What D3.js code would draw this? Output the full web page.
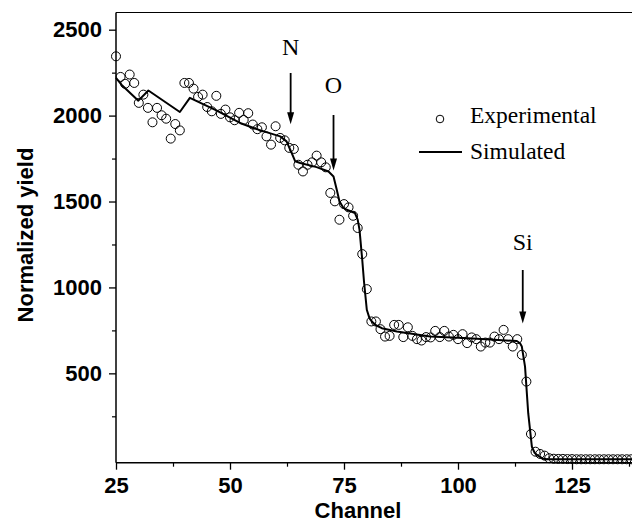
<!DOCTYPE html>
<html><head><meta charset="utf-8">
<script src="https://cdn.jsdelivr.net/npm/d3@7/dist/d3.min.js"></script>
<style>html,body{margin:0;padding:0;background:#fff;}svg{display:block;}</style>
</head><body><svg id="c" width="632" height="524"></svg>
<script>
const expChannel = [25,26,27,28,29,30,31,32,33,34,35,36,37,38,39,40,41,42,43,44,45,46,47,48,49,50,51,52,53,54,55,56,57,58,59,60,61,62,63,64,65,66,67,68,69,70,71,72,73,74,75,76,77,78,79,80,81,82,83,84,85,86,87,88,89,90,91,92,93,94,95,96,97,98,99,100,101,102,103,104,105,106,107,108,109,110,111,112,113,114,115,116,117,118,119,120,121,122,123,124,125,126,127,128,129,130,131,132,133,134,135,136,137,138];
const expYield = [2345,2225,2185,2239,2190,2074,2122,2045,1961,2045,2002,1982,1866,1951,1914,2190,2190,2157,2109,2122,2050,2025,2115,2010,2035,1990,1973,2016,1975,2014,1948,1921,1932,1879,1831,1938,1870,1856,1812,1806,1714,1675,1714,1728,1767,1728,1699,1550,1501,1394,1485,1466,1417,1346,1194,990,802,802,757,714,718,782,782,711,768,718,699,691,711,709,747,711,747,714,724,699,728,676,709,699,656,679,679,714,699,753,699,656,699,608,452,147,44,31,21,6,3,2,2,1,1,0,0,0,0,0,0,0,0,0,0,0,0,0];
const simChannel = [25,26.2,29.9,32.1,39.0,41.2,47,52.2,56,61,62.4,63.4,64.3,65.4,69,71.6,72.7,73.4,74.0,74.8,75.6,77.4,78.0,78.4,79.0,79.4,80.0,80.6,81.1,82,83.3,86.6,93.9,101.2,108,112.9,113.6,114.0,114.7,115.4,116.2,116.8,117.3,118.5,119.5,138.5];
const simYield = [2220,2180,2087,2146,2021,2103,2030,1957,1920,1879,1850,1790,1734,1724,1700,1675,1646,1570,1501,1465,1452,1433,1395,1336,1161,1030,870,820,802,780,763,743,714,705,695,688,675,656,539,268,73,38,25,5,0,0];
const xTicks = [25,50,75,100,125];
const xMinor = [37.5,62.5,87.5,112.5,137.5];
const yTicks = [500,1000,1500,2000,2500];
const yMinor = [250,750,1250,1750,2250];
const annotations = [{label:"N", ch:63.3, tip:1950},{label:"O", ch:72.7, tip:1680},{label:"Si", ch:114.2, tip:790}];

const svg = d3.select("#c");
const x = d3.scaleLinear().domain([25,140]).range([116, 116+115*4.56]);
const y = d3.scaleLinear().domain([-20,2600]).range([462.7,12.5]);
const axisFont = "'Liberation Sans', Arial, sans-serif";
const serif = "'Liberation Serif', 'Times New Roman', serif";

// frame lines (left, bottom, top)
svg.append("line").attr("x1",116).attr("x2",116).attr("y1",12.5).attr("y2",462.7).attr("stroke","#000").attr("stroke-width",1.5);
svg.append("line").attr("x1",116).attr("x2",632).attr("y1",462.7).attr("y2",462.7).attr("stroke","#000").attr("stroke-width",1.5);
svg.append("line").attr("x1",116).attr("x2",632).attr("y1",12.5).attr("y2",12.5).attr("stroke","#000").attr("stroke-width",1.2);

// x axis
const gx = svg.append("g").attr("transform","translate(0,462.7)")
  .call(d3.axisBottom(x).tickValues(xTicks).tickSize(7).tickPadding(8).tickFormat(d3.format("d")));
gx.select(".domain").remove();
gx.selectAll(".tick line").attr("stroke","#000").attr("stroke-width",1.3);
gx.selectAll("text").attr("font-family",axisFont).attr("font-weight","bold").attr("font-size",22).attr("fill","#000");
const gxm = svg.append("g").attr("transform","translate(0,462.7)")
  .call(d3.axisBottom(x).tickValues(xMinor).tickSize(4).tickFormat(""));
gxm.select(".domain").remove();
gxm.selectAll(".tick line").attr("stroke","#000").attr("stroke-width",1.2);

// y axis
const gy = svg.append("g").attr("transform","translate(116,0)")
  .call(d3.axisLeft(y).tickValues(yTicks).tickSize(7).tickPadding(7).tickFormat(d3.format("d")));
gy.select(".domain").remove();
gy.selectAll(".tick line").attr("stroke","#000").attr("stroke-width",1.3);
gy.selectAll("text").attr("font-family",axisFont).attr("font-weight","bold").attr("font-size",22).attr("fill","#000");
const gym = svg.append("g").attr("transform","translate(116,0)")
  .call(d3.axisLeft(y).tickValues(yMinor).tickSize(4).tickFormat(""));
gym.select(".domain").remove();
gym.selectAll(".tick line").attr("stroke","#000").attr("stroke-width",1.2);

// axis titles
svg.append("text").attr("x",358).attr("y",518).attr("text-anchor","middle")
  .attr("font-family",axisFont).attr("font-weight","bold").attr("font-size",22).text("Channel");
svg.append("text").attr("transform","translate(33,235) rotate(-90)").attr("text-anchor","middle")
  .attr("font-family",axisFont).attr("font-weight","bold").attr("font-size",22).text("Normalized yield");

// simulated line
const line = d3.line().x(d=>x(d[0])).y(d=>y(d[1])).curve(d3.curveLinear);
svg.append("path").datum(simChannel.map((c,i)=>[c,simYield[i]]))
  .attr("d",line).attr("fill","none").attr("stroke","#000").attr("stroke-width",2).attr("stroke-linejoin","round");

// experimental points
svg.append("g").selectAll("circle").data(expChannel.map((c,i)=>[c,expYield[i]])).join("circle")
  .attr("cx",d=>x(d[0])).attr("cy",d=>y(d[1])).attr("r",4.5)
  .attr("fill","none").attr("stroke","#000").attr("stroke-width",1);

// annotations with arrows
const annTop = {N:73, O:115, Si:270};
const labY = {N:55, O:93, Si:250};
annotations.forEach(a=>{
  const ax = x(a.ch);
  const tipY = y(a.tip);
  svg.append("text").attr("x",ax).attr("y",labY[a.label]).attr("text-anchor","middle")
    .attr("font-family",serif).attr("font-size",24).attr("fill","#000").text(a.label);
  svg.append("line").attr("x1",ax).attr("x2",ax).attr("y1",annTop[a.label]).attr("y2",tipY-10)
    .attr("stroke","#000").attr("stroke-width",1.8);
  svg.append("path").attr("d",`M${ax-3.5},${tipY-12} L${ax+3.5},${tipY-12} L${ax},${tipY} Z`).attr("fill","#000");
});

// legend
svg.append("circle").attr("cx",440).attr("cy",119).attr("r",3.8).attr("fill","none").attr("stroke","#000").attr("stroke-width",1);
svg.append("text").attr("x",470).attr("y",123).attr("font-family",serif).attr("font-size",23.5).text("Experimental");
svg.append("line").attr("x1",419).attr("x2",462).attr("y1",152).attr("y2",152).attr("stroke","#000").attr("stroke-width",2);
svg.append("text").attr("x",470).attr("y",159).attr("font-family",serif).attr("font-size",23.5).text("Simulated");
</script></body></html>
